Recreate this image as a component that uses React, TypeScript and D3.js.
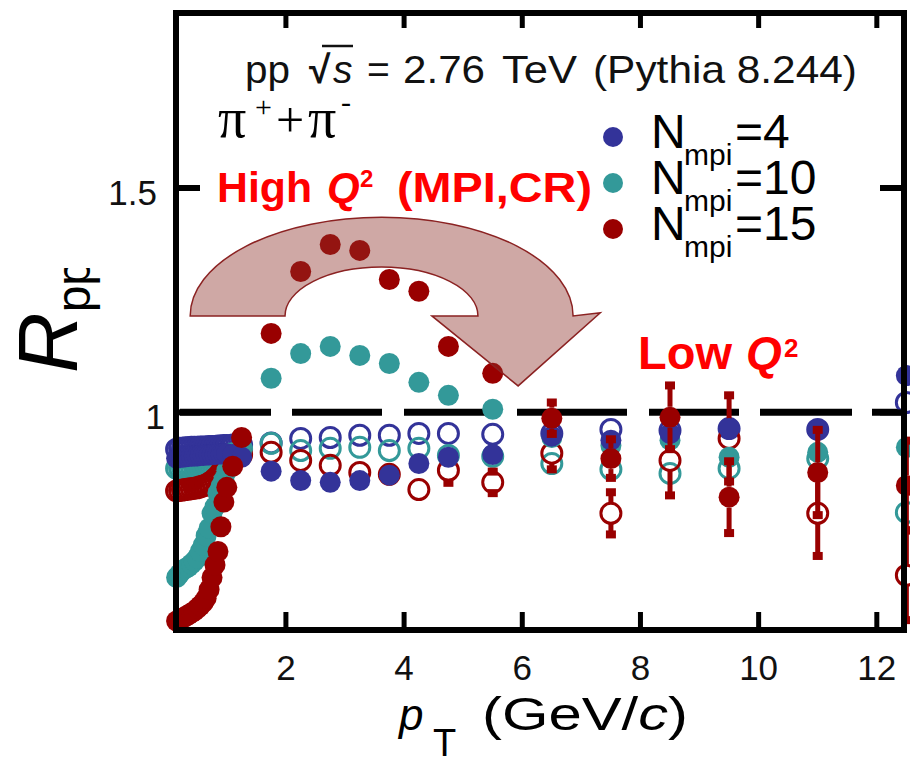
import * as d3 from 'd3';

// pT bin centres (GeV/c)
const PT = [0.15, 0.2, 0.25, 0.3, 0.35, 0.4, 0.45, 0.5, 0.55, 0.6, 0.65, 0.7, 0.75, 0.8, 0.85, 0.9, 0.95, 1.0, 1.1, 1.25,
  1.75, 2.25, 2.75, 3.25, 3.75, 4.25, 4.75, 5.5, 6.5, 7.5, 8.5, 9.5, 11, 12.5];

// R_pp, filled markers
const BLUE_FILLED = [0.898, 0.9, 0.9, 0.901, 0.902, 0.902, 0.903, 0.903, 0.904, 0.904, 0.905, 0.905, 0.906, 0.906, 0.907, 0.907, 0.908, 0.908, 0.906, 0.9,
  0.869, 0.848, 0.844, 0.848, 0.86, 0.886, 0.9, 0.906, 0.947, 0.938, 0.953, 0.964, 0.962, 1.082];
const TEAL_FILLED = [0.632, 0.64, 0.648, 0.652, 0.656, 0.662, 0.668, 0.676, 0.69, 0.704, 0.725, 0.742, 0.775, 0.79, 0.82, 0.835, 0.85, 0.87, 0.895, 0.915,
  1.076, 1.131, 1.147, 1.127, 1.109, 1.067, 1.038, 1.007, 0.944, 0.926, 0.938, 0.9, 0.911, 0.922];
const RED_FILLED = [0.535, 0.538, 0.541, 0.545, 0.549, 0.553, 0.557, 0.563, 0.569, 0.576, 0.586, 0.605, 0.632, 0.66, 0.69, 0.745, 0.8, 0.833, 0.88, 0.944,
  1.176, 1.314, 1.374, 1.361, 1.296, 1.27, 1.147, 1.087, 0.987, 0.897, 0.989, 0.811, 0.866, 0.837];
const RED_FILLED_ERR = [0, 0, 0, 0, 0, 0, 0, 0, 0, 0, 0, 0, 0, 0, 0, 0, 0, 0, 0, 0,
  0, 0, 0, 0, 0, 0, 0, 0, 0.035, 0.043, 0.071, 0.08, 0.095, 0.1];

// R_pp, open markers
const BLUE_OPEN = [0.918, 0.92, 0.92, 0.921, 0.921, 0.922, 0.922, 0.922, 0.923, 0.923, 0.923, 0.924, 0.924, 0.924, 0.925, 0.925, 0.926, 0.926, 0.927, 0.928,
  0.932, 0.942, 0.944, 0.949, 0.949, 0.953, 0.953, 0.951, 0.953, 0.962, 0.96, 0.964, 0.962, 1.022];
const TEAL_OPEN = [0.875, 0.876, 0.877, 0.877, 0.878, 0.878, 0.879, 0.879, 0.88, 0.88, 0.882, 0.884, 0.886, 0.888, 0.89, 0.893, 0.896, 0.9, 0.908, 0.918,
  0.931, 0.915, 0.92, 0.922, 0.915, 0.92, 0.904, 0.902, 0.886, 0.873, 0.864, 0.875, 0.897, 0.777];
const RED_OPEN = [0.825, 0.826, 0.827, 0.828, 0.829, 0.83, 0.831, 0.832, 0.834, 0.836, 0.838, 0.842, 0.846, 0.852, 0.858, 0.866, 0.874, 0.882, 0.893, 0.905,
  0.911, 0.893, 0.882, 0.866, 0.862, 0.828, 0.871, 0.844, 0.909, 0.775, 0.893, 0.942, 0.775, 0.637];
const RED_OPEN_ERR = [0, 0, 0, 0, 0, 0, 0, 0, 0, 0, 0, 0, 0, 0, 0, 0, 0, 0, 0, 0,
  0, 0, 0, 0, 0, 0, 0.028, 0.024, 0.036, 0.047, 0.078, 0.096, 0.095, 0.1];

const X_TICKS = [2, 4, 6, 8, 10, 12];
const Y_TICKS = [1, 1.5];
const LEGEND_N = ['4', '10', '15'];

// curved "High Q2 -> Low Q2" arrow, in data units
const ARROW_OUTER = [0.38, 6.86];
const ARROW_INNER = [1.985, 5.25];
const ARROW_BASE = 1.215;
const ARROW_OUTER_TOP = 1.435;
const ARROW_INNER_TOP = 1.324;
const ARROW_HEAD_BACK = 4.47;
const ARROW_TIP = [5.93, 1.059];
const ARROW_WING = [7.32, 1.222];

const W = 910;
const H = 761;
const BLUE = '#333399';
const TEAL = '#339999';
const RED = '#990000';
const SANS = 'Liberation Sans, Arimo, Roboto, Helvetica, Arial, sans-serif';
const SERIF = 'Liberation Serif, Tinos, DejaVu Serif, serif';

const x = d3.scaleLinear().domain([0.14, 12.46]).range([176, 904]);
const y = d3.scaleLinear().domain([0.515, 1.89]).range([630, 13]);

const R_FILL = 10.5;
const R_OPEN = 10;

function Markers({ values, color, open }: { values: number[]; color: string; open?: boolean }) {
  return (
    <g>
      {values.map((v, i) => (
        <circle key={i} cx={x(PT[i])} cy={y(v)} r={open ? R_OPEN : R_FILL}
          fill={open ? 'none' : color} stroke={open ? color : 'none'} strokeWidth={open ? 3 : 0} />
      ))}
    </g>
  );
}

function ErrorBars({ values, errs, color }: { values: number[]; errs: number[]; color: string }) {
  return (
    <g fill={color} stroke={color}>
      {values.map((v, i) => {
        const e = errs[i];
        if (!e) return null;
        const cx = x(PT[i]);
        const cy = y(v);
        const top = y(v + e);
        const bot = y(v - e);
        return (
          <g key={i}>
            {cy - top > R_FILL && <line x1={cx} x2={cx} y1={top} y2={cy - R_FILL} strokeWidth={5} />}
            {bot - cy > R_FILL && <line x1={cx} x2={cx} y1={cy + R_FILL} y2={bot} strokeWidth={5} />}
            <rect x={cx - 5} y={top - 4} width={10} height={8} stroke="none" />
            <rect x={cx - 5} y={bot - 4} width={10} height={8} stroke="none" />
          </g>
        );
      })}
    </g>
  );
}

function arrowPath() {
  const yb = y(ARROW_BASE);
  const xo0 = x(ARROW_OUTER[0]);
  const xo1 = x(ARROW_OUTER[1]);
  const xi0 = x(ARROW_INNER[0]);
  const xi1 = x(ARROW_INNER[1]);
  const rxo = (xo1 - xo0) / 2;
  const ryo = yb - y(ARROW_OUTER_TOP);
  const rxi = (xi1 - xi0) / 2;
  const ryi = yb - y(ARROW_INNER_TOP);
  return `M${xo0},${yb} A${rxo},${ryo} 0 0 1 ${xo1},${yb}`
    + ` L${x(ARROW_WING[0])},${y(ARROW_WING[1])} L${x(ARROW_TIP[0])},${y(ARROW_TIP[1])}`
    + ` L${x(ARROW_HEAD_BACK)},${yb} L${xi1},${yb}`
    + ` A${rxi},${ryi} 0 0 0 ${xi0},${yb} Z`;
}

export default function App() {
  const [x0, x1] = x.range();
  const [yB, yT] = y.range();
  return (
    <svg width={W} height={H} viewBox={`0 0 ${W} ${H}`}
      style={{ position: 'absolute', left: 0, top: 0, background: '#fff', fontFamily: SANS }}>
      <defs>
        <clipPath id="ylab-clip"><rect x={0} y={268} width={170} height={500} /></clipPath>
      </defs>
      <rect width={W} height={H} fill="#fff" />

      {/* reference line at R = 1 */}
      <line x1={x0} x2={x1} y1={y(1)} y2={y(1)} stroke="#000" strokeWidth={7}
        strokeDasharray="0 4 91 21 90 22 90 23 110 22 90 21 92 20 40" />

      {/* open markers */}
      <Markers values={BLUE_OPEN} color={BLUE} open />
      <Markers values={TEAL_OPEN} color={TEAL} open />
      <Markers values={RED_OPEN} color={RED} open />
      <ErrorBars values={RED_OPEN} errs={RED_OPEN_ERR} color={RED} />

      {/* filled markers */}
      <Markers values={TEAL_FILLED} color={TEAL} />
      <Markers values={BLUE_FILLED} color={BLUE} />
      <Markers values={RED_FILLED} color={RED} />
      <ErrorBars values={RED_FILLED} errs={RED_FILLED_ERR} color={RED} />

      {/* arrow */}
      <path d={arrowPath()} fill="rgba(140,47,40,0.42)" stroke="#8b2222" strokeWidth={1.5} />

      {/* frame and ticks */}
      <rect x={x0} y={yT} width={x1 - x0} height={yB - yT} fill="none" stroke="#000" strokeWidth={6} />
      <g stroke="#000" strokeWidth={5}>
        {X_TICKS.map((t) => (
          <g key={t}>
            <line x1={x(t)} x2={x(t)} y1={yT} y2={yT + 15} />
            <line x1={x(t)} x2={x(t)} y1={yB} y2={yB - 18} />
          </g>
        ))}
        {Y_TICKS.map((t) => (
          <g key={t}>
            <line x1={x0} x2={x0 + 24} y1={y(t)} y2={y(t)} strokeWidth={6} />
            <line x1={x1} x2={x1 - 24} y1={y(t)} y2={y(t)} strokeWidth={6} />
          </g>
        ))}
      </g>

      {/* tick labels */}
      <g fontSize={35} fill="#111">
        {X_TICKS.map((t) => (
          <text key={t} x={x(t)} y={680} textAnchor="middle">{t}</text>
        ))}
        {Y_TICKS.map((t) => (
          <text key={t} x={t === 1 ? 165 : 157} y={y(t) + 17} textAnchor="end">{t}</text>
        ))}
      </g>

      {/* axis titles */}
      <g clipPath="url(#ylab-clip)">
        <text transform="translate(77,373) rotate(-90)" fontSize={84} fontStyle="italic" fill="#000">
          R<tspan fontSize={48} fontStyle="normal" dy={13}>pp</tspan>
        </text>
      </g>
      <text y={730} fill="#000">
        <tspan x={399} fontSize={44} fontStyle="italic">p</tspan>
        <tspan x={433} dy={26} fontSize={38}>T</tspan>
        <tspan x={482} dy={-26} fontSize={46} textLength={206} lengthAdjust="spacingAndGlyphs">
          (GeV/<tspan fontStyle="italic">c</tspan>)
        </tspan>
      </text>

      {/* system label */}
      <text y={83} fontSize={39} fill="#111">
        <tspan x={245} textLength={45} lengthAdjust="spacingAndGlyphs">pp</tspan>
        <tspan x={309} fontWeight="bold">√</tspan>
        <tspan x={333} fontStyle="italic">s</tspan>
        <tspan x={367}>=</tspan>
        <tspan x={403} textLength={82} lengthAdjust="spacingAndGlyphs">2.76</tspan>
        <tspan x={502} textLength={75} lengthAdjust="spacingAndGlyphs">TeV</tspan>
        <tspan x={593} textLength={264} lengthAdjust="spacingAndGlyphs">(Pythia 8.244)</tspan>
      </text>
      <line x1={322} x2={353} y1={46} y2={46} stroke="#111" strokeWidth={2.5} />

      {/* particle label */}
      <g fontFamily={SERIF} fill="#000">
        <text x={218} y={137} fontSize={56}>π</text>
        <text x={255} y={117} fontSize={30}>+</text>
        <text x={276} y={137} fontSize={50}>+</text>
        <text x={308} y={137} fontSize={56}>π</text>
        <text x={341} y={112} fontSize={30}>-</text>
      </g>

      {/* annotations */}
      <text y={202} fontSize={42} fontWeight="bold" fill="#ff0000">
        <tspan x={217} textLength={95} lengthAdjust="spacingAndGlyphs">High</tspan>
        <tspan x={327} fontStyle="italic">Q</tspan>
        <tspan x={360} dy={-15} fontSize={24}>2</tspan>
        <tspan x={397} dy={15} textLength={195} lengthAdjust="spacingAndGlyphs">(MPI,CR)</tspan>
      </text>
      <text y={369} fontSize={46} fontWeight="bold" fill="#ff0000">
        <tspan x={638} textLength={94} lengthAdjust="spacingAndGlyphs">Low</tspan>
        <tspan x={746} fontStyle="italic">Q</tspan>
        <tspan x={784} dy={-12} fontSize={26}>2</tspan>
      </text>

      {/* legend */}
      {LEGEND_N.map((n, i) => (
        <g key={n} transform={`translate(0,${i * 46})`}>
          <circle cx={613} cy={137} r={10} fill={[BLUE, TEAL, RED][i]} />
          <text y={148} fontSize={48} fill="#000">
            <tspan x={651}>N</tspan>
            <tspan x={684} dy={17} fontSize={30}>mpi</tspan>
            <tspan x={735} dy={-17}>={n}</tspan>
          </text>
        </g>
      ))}
    </svg>
  );
}
